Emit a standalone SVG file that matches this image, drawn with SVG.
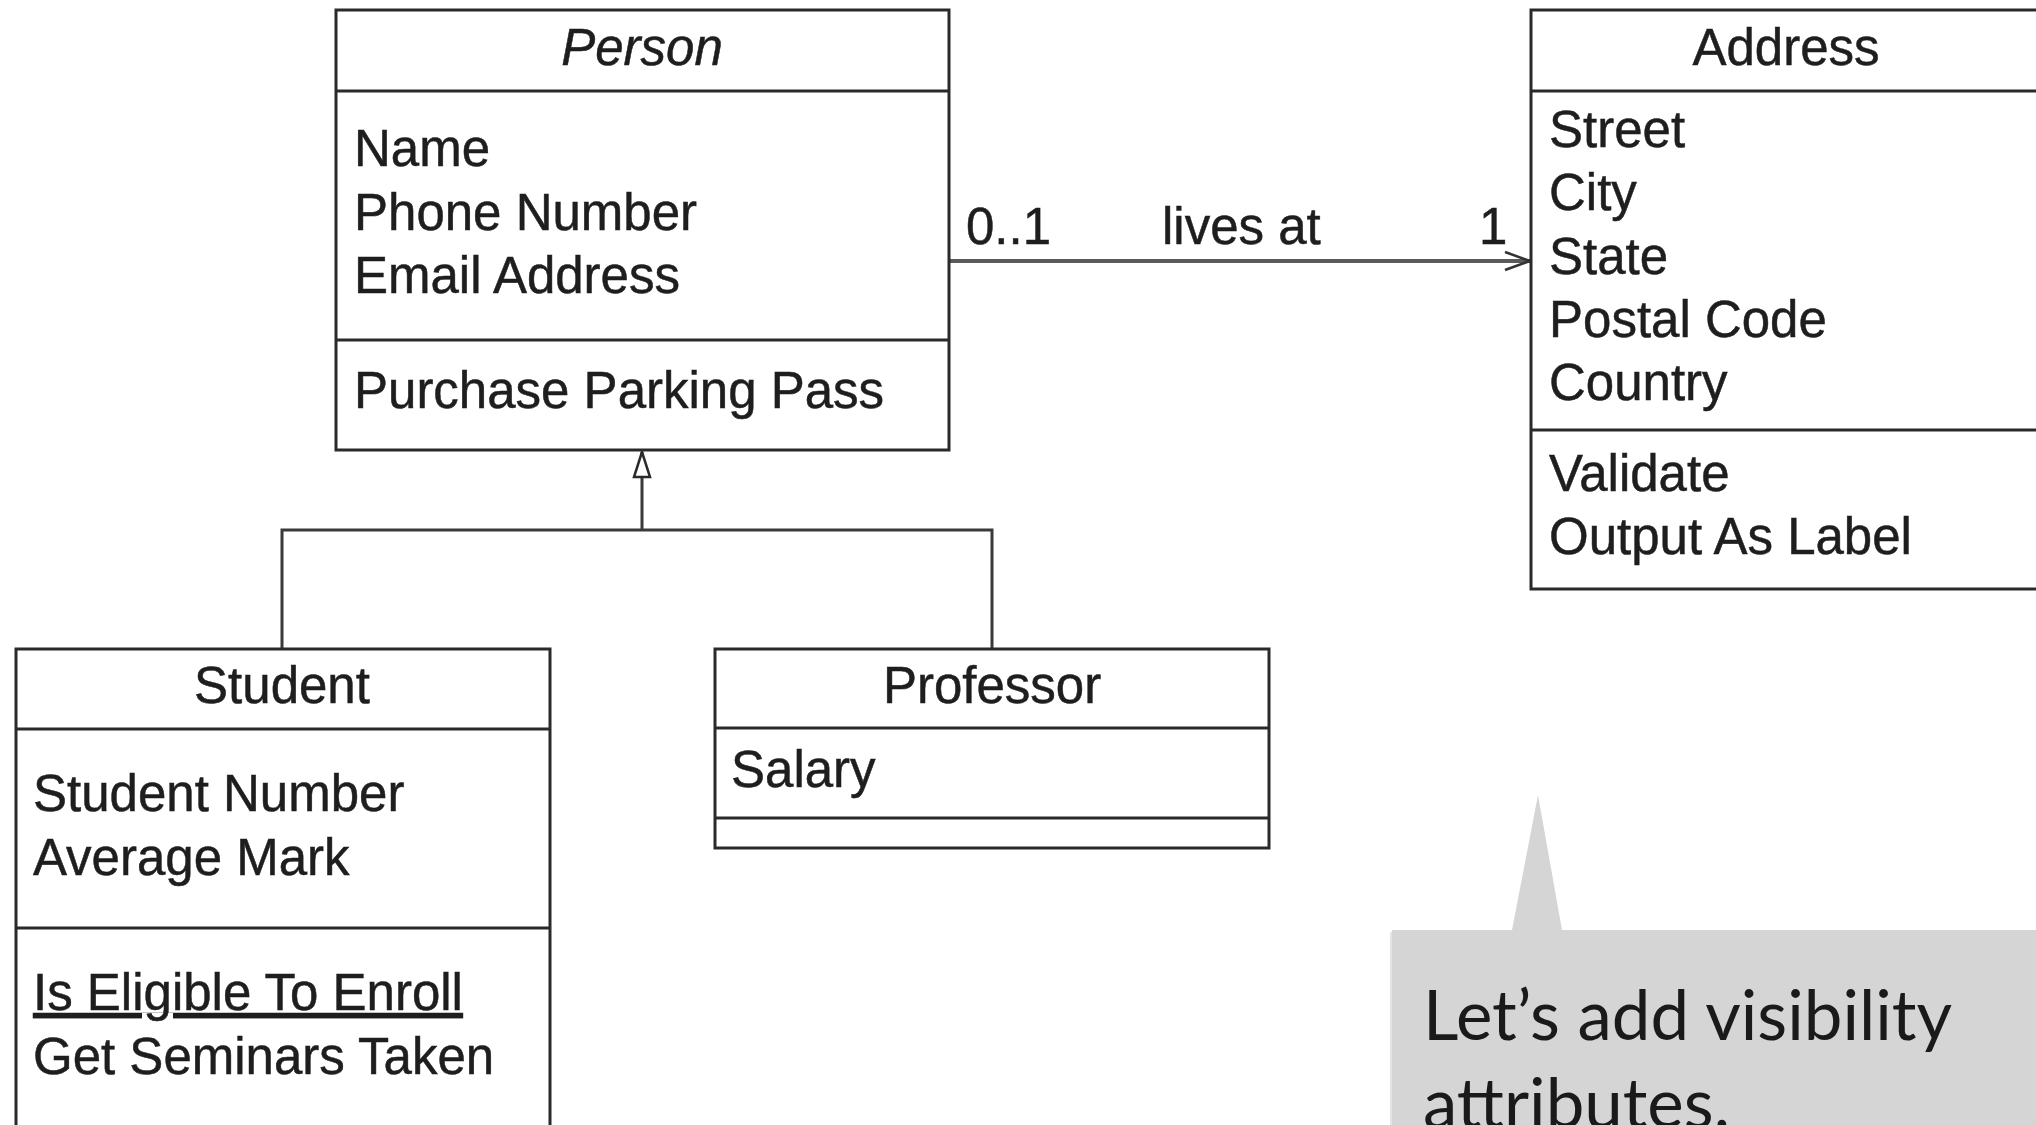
<svg xmlns="http://www.w3.org/2000/svg" width="2036" height="1125" viewBox="0 0 2036 1125">
  <defs>
    <style>
      .box { fill: #ffffff; stroke: #2a2a2a; stroke-width: 3; }
      .div { stroke: #2a2a2a; stroke-width: 3; fill: none; }
      .t { font-family: "Liberation Sans", Arial, sans-serif; font-size: 51px; fill: #1e1e1e; stroke: #1e1e1e; stroke-width: 0.5; }
      .c { text-anchor: middle; }
      .conn { fill: none; stroke: #3a3a3a; stroke-width: 3; }
      .assoc { fill: none; stroke: #5a5a5a; stroke-width: 4; }
      .note { font-family: "Lato", "Open Sans", sans-serif; font-size: 69px; fill: #1a1a1a; }
    </style>
    <marker id="open" markerUnits="userSpaceOnUse" markerWidth="30" markerHeight="24" refX="26" refY="12" orient="auto" viewBox="0 0 30 24">
      <path d="M 1 3 L 26 12 L 1 21" fill="none" stroke="#333333" stroke-width="2.5"/>
    </marker>
    <marker id="tri" markerUnits="userSpaceOnUse" markerWidth="30" markerHeight="24" refX="27" refY="12" orient="auto" viewBox="0 0 30 24">
      <path d="M 27 12 L 2 4 L 2 20 Z" fill="#ffffff" stroke="#2a2a2a" stroke-width="2.5"/>
    </marker>
  </defs>
  <rect x="0" y="0" width="2036" height="1125" fill="#ffffff"/>

  <g id="connectors">
    <path class="assoc" d="M 949 261 H 1530" marker-end="url(#open)"/>
    <path class="conn" d="M 282 649 V 530 H 992 V 649"/>
    <path class="conn" d="M 642 530 V 452" marker-end="url(#tri)"/>
    <text class="t" x="966" y="244">0..1</text>
    <text class="t" x="1162" y="244">lives at</text>
    <text class="t" x="1479" y="244">1</text>
  </g>

  <g id="person">
    <rect class="box" x="336" y="10" width="613" height="440"/>
    <line class="div" x1="336" y1="91" x2="949" y2="91"/>
    <line class="div" x1="336" y1="340" x2="949" y2="340"/>
    <text class="t c" x="642" y="65" font-style="italic">Person</text>
    <text class="t" x="354" y="166">Name</text>
    <text class="t" x="354" y="230">Phone Number</text>
    <text class="t" x="354" y="293">Email Address</text>
    <text class="t" x="354" y="408">Purchase Parking Pass</text>
  </g>

  <g id="address">
    <rect class="box" x="1531" y="10" width="520" height="579"/>
    <line class="div" x1="1531" y1="91" x2="2051" y2="91"/>
    <line class="div" x1="1531" y1="430" x2="2051" y2="430"/>
    <text class="t c" x="1786" y="65">Address</text>
    <text class="t" x="1549" y="147">Street</text>
    <text class="t" x="1549" y="210">City</text>
    <text class="t" x="1549" y="274">State</text>
    <text class="t" x="1549" y="337">Postal Code</text>
    <text class="t" x="1549" y="400">Country</text>
    <text class="t" x="1549" y="491">Validate</text>
    <text class="t" x="1549" y="554">Output As Label</text>
  </g>

  <g id="student">
    <rect class="box" x="16" y="649" width="534" height="500"/>
    <line class="div" x1="16" y1="729" x2="550" y2="729"/>
    <line class="div" x1="16" y1="928" x2="550" y2="928"/>
    <text class="t c" x="282" y="703">Student</text>
    <text class="t" x="33" y="811">Student Number</text>
    <text class="t" x="33" y="875">Average Mark</text>
    <text class="t" x="33" y="1010" text-decoration="underline">Is Eligible To Enroll</text>
    <text class="t" x="33" y="1074">Get Seminars Taken</text>
  </g>

  <g id="professor">
    <rect class="box" x="715" y="649" width="554" height="199"/>
    <line class="div" x1="715" y1="728" x2="1269" y2="728"/>
    <line class="div" x1="715" y1="818" x2="1269" y2="818"/>
    <text class="t c" x="992" y="703">Professor</text>
    <text class="t" x="731" y="787">Salary</text>
  </g>

  <g id="callout">
    <path d="M 1392 930 H 1512 L 1538 795 L 1562 930 H 2036 V 1125 H 1392 Z" fill="#d5d5d5"/>
    <line x1="1391" y1="932" x2="1391" y2="1125" stroke="#e4e4e4" stroke-width="2"/>
    <text class="note" x="1423" y="1040">Let’s add visibility</text>
    <text class="note" x="1423" y="1128">attributes.</text>
  </g>
</svg>
